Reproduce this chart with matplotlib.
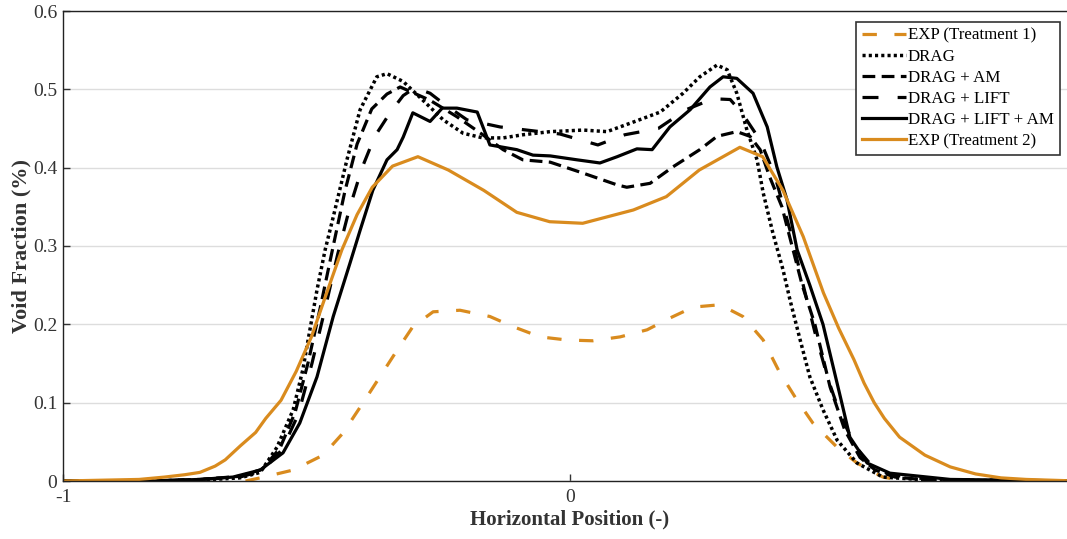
import numpy as np
import matplotlib
matplotlib.use('Agg')
import matplotlib.pyplot as plt

# EXP (Treatment 2) - сплошная оранжевая
x_exp2 = [-1.0, -0.85, -0.80, -0.76, -0.73, -0.70, -0.68, -0.65, -0.62, -0.60, -0.57, -0.54,
          -0.51, -0.48, -0.45, -0.42, -0.39, -0.35, -0.30, -0.24, -0.17, -0.105, -0.04, 0.025,
          0.125, 0.19, 0.255, 0.335, 0.38, 0.42, 0.46, 0.50, 0.53, 0.56, 0.58, 0.60, 0.62,
          0.65, 0.70, 0.75, 0.80, 0.85, 0.90, 1.0]
y_exp2 = [0.0, 0.002, 0.005, 0.008, 0.011, 0.019, 0.027, 0.045, 0.062, 0.08, 0.103, 0.14,
          0.184, 0.24, 0.295, 0.34, 0.375, 0.402, 0.414, 0.397, 0.371, 0.343, 0.331, 0.329,
          0.346, 0.363, 0.397, 0.426, 0.414, 0.371, 0.312, 0.24, 0.195, 0.155, 0.125, 0.10,
          0.08, 0.056, 0.033, 0.018, 0.009, 0.004, 0.002, 0.0]

# EXP (Treatment 1) - оранжевая штриховая
x_exp1 = [-0.64, -0.611, -0.546, -0.487, -0.448, -0.408, -0.375, -0.341, -0.310, -0.270,
          -0.217, -0.158, -0.112, -0.059, -0.006, 0.045, 0.099, 0.152, 0.197, 0.243, 0.296,
          0.341, 0.381, 0.414, 0.448, 0.479, 0.527, 0.566, 0.617, 0.66]
y_exp1 = [0.0, 0.004, 0.014, 0.033, 0.061, 0.1, 0.133, 0.167, 0.197, 0.216, 0.218, 0.21,
          0.197, 0.184, 0.18, 0.179, 0.184, 0.193, 0.208, 0.222, 0.225, 0.21, 0.18, 0.138,
          0.103, 0.074, 0.043, 0.023, 0.005, 0.0]

# DRAG
x_drag = [-1.0, -0.828, -0.730, -0.651, -0.611, -0.578, -0.546, -0.527, -0.513, -0.499, -0.483,
          -0.467, -0.440, -0.414, -0.381, -0.361, -0.329, -0.290, -0.250, -0.211, -0.172,
          -0.132, -0.093, -0.039, 0.026, 0.073, 0.124, 0.178, 0.223, 0.256, 0.290, 0.310,
          0.329, 0.349, 0.369, 0.381, 0.400, 0.420, 0.434, 0.454, 0.473, 0.499, 0.527, 0.566,
          0.617, 0.710, 1.0]
y_drag = [0.0, 0.0, 0.001, 0.004, 0.011, 0.043, 0.091, 0.142, 0.193, 0.244, 0.295, 0.337,
          0.41, 0.474, 0.516, 0.52, 0.51, 0.486, 0.461, 0.444, 0.438, 0.438, 0.442, 0.446,
          0.448, 0.446, 0.458, 0.471, 0.495, 0.516, 0.531, 0.525, 0.495, 0.448, 0.41, 0.368,
          0.317, 0.27, 0.231, 0.18, 0.133, 0.091, 0.052, 0.023, 0.005, 0.001, 0.0]

# DRAG + AM
x_am = [-1.0, -0.828, -0.730, -0.651, -0.607, -0.572, -0.542, -0.517, -0.493, -0.467, -0.444,
        -0.420, -0.391, -0.361, -0.335, -0.276, -0.223, -0.172, -0.132, -0.093, -0.039,
        0.026, 0.093, 0.112, 0.158, 0.203, 0.256, 0.290, 0.329, 0.355, 0.375, 0.394, 0.418,
        0.438, 0.458, 0.483, 0.513, 0.542, 0.572, 0.602, 0.641, 0.710, 1.0]
y_am = [0.0, 0.0, 0.002, 0.006, 0.015, 0.042, 0.088, 0.15, 0.22, 0.30, 0.37, 0.43, 0.475,
        0.494, 0.503, 0.486, 0.465, 0.442, 0.423, 0.41, 0.407, 0.393, 0.378, 0.375, 0.38,
        0.401, 0.423, 0.44, 0.446, 0.44, 0.423, 0.388, 0.35, 0.30, 0.25, 0.20, 0.12, 0.065,
        0.03, 0.014, 0.005, 0.001, 0.0]

# DRAG + LIFT
x_lift = [-1.0, -0.828, -0.730, -0.651, -0.607, -0.568, -0.536, -0.509, -0.483, -0.458, -0.434,
          -0.410, -0.385, -0.355, -0.329, -0.306, -0.276, -0.250, -0.203, -0.138, -0.059,
          -0.020, 0.055, 0.108, 0.174, 0.229, 0.282, 0.316, 0.339, 0.375, 0.404, 0.434, 0.460,
          0.483, 0.509, 0.533, 0.562, 0.592, 0.631, 0.710, 1.0]
y_lift = [0.0, 0.0, 0.002, 0.005, 0.013, 0.04, 0.085, 0.15, 0.22, 0.29, 0.35, 0.40, 0.44,
          0.47, 0.492, 0.502, 0.495, 0.482, 0.461, 0.452, 0.446, 0.443, 0.429, 0.442, 0.45,
          0.474, 0.488, 0.487, 0.47, 0.435, 0.39, 0.32, 0.25, 0.19, 0.13, 0.085, 0.045, 0.022,
          0.008, 0.002, 0.0]

# DRAG + LIFT + AM
x_all = [-1.0, -0.828, -0.730, -0.665, -0.611, -0.566, -0.533, -0.499, -0.467, -0.434, -0.414,
         -0.389, -0.361, -0.341, -0.329, -0.310, -0.276, -0.252, -0.223, -0.183, -0.158,
         -0.105, -0.073, -0.039, 0.014, 0.059, 0.093, 0.132, 0.162, 0.197, 0.237, 0.276,
         0.302, 0.329, 0.361, 0.389, 0.408, 0.428, 0.448, 0.473, 0.499, 0.536, 0.552, 0.586,
         0.631, 0.750, 1.0]
y_all = [0.0, 0.0, 0.002, 0.005, 0.014, 0.036, 0.074, 0.133, 0.21, 0.278, 0.32, 0.371, 0.41,
         0.423, 0.439, 0.47, 0.459, 0.476, 0.476, 0.471, 0.429, 0.423, 0.416, 0.415, 0.41,
         0.406, 0.414, 0.424, 0.423, 0.452, 0.474, 0.503, 0.516, 0.514, 0.495, 0.452, 0.401,
         0.359, 0.295, 0.25, 0.2, 0.1, 0.056, 0.023, 0.01, 0.002, 0.0]

orange = '#D98B1E'

plt.rcParams['font.family'] = ['Liberation Serif', 'DejaVu Serif']

fig = plt.figure(figsize=(10.67, 5.39), dpi=100)
ax = fig.add_axes([63 / 1067, 58 / 539, 1014 / 1067, 470 / 539])

ax.plot(x_exp1, y_exp1, color=orange, linewidth=2.3, dashes=(4.5, 5.5), label='EXP (Treatment 1)')
ax.plot(x_drag, y_drag, color='black', linewidth=2.5, dashes=(0.9, 0.9), label='DRAG')
ax.plot(x_am, y_am, color='black', linewidth=2.3, dashes=(4, 2), label='DRAG + AM')
ax.plot(x_lift, y_lift, color='black', linewidth=2.3, dashes=(5, 6), label='DRAG + LIFT')
ax.plot(x_all, y_all, color='black', linewidth=2.3, label='DRAG + LIFT + AM')
ax.plot(x_exp2, y_exp2, color=orange, linewidth=2.3, label='EXP (Treatment 2)')

ax.set_xlim(-1, 1)
ax.set_ylim(0, 0.6)
ax.set_xticks([-1, 0])
ax.set_xticklabels(['-1', '0'])
ax.set_yticks([0, 0.1, 0.2, 0.3, 0.4, 0.5, 0.6])
ax.set_yticklabels(['0', '0.1', '0.2', '0.3', '0.4', '0.5', '0.6'])
ax.tick_params(direction='in', labelsize=14, colors='#333333', length=5, width=1)
ax.tick_params(axis='x', pad=6)
ax.tick_params(axis='y', pad=4)
ax.grid(True, axis='y', color='#dddddd', linewidth=1)
ax.set_axisbelow(True)
for s in ax.spines.values():
    s.set_color('#222222')
    s.set_linewidth(1)

ax.set_xlabel('Horizontal Position (-)', fontsize=15, fontweight='bold', color='#333333', labelpad=2)
ax.set_ylabel('Void Fraction (%)', fontsize=16, fontweight='bold', color='#333333', labelpad=1)

leg = ax.legend(loc='upper right', bbox_to_anchor=(0.983, 0.977), borderaxespad=0,
                fancybox=False, edgecolor='#333333', fontsize=12.2, handlelength=2.6,
                handletextpad=0.1, labelspacing=0.3, borderpad=0.35, framealpha=1)
leg.get_frame().set_linewidth(1.2)

fig.savefig('out.png', dpi=100)
